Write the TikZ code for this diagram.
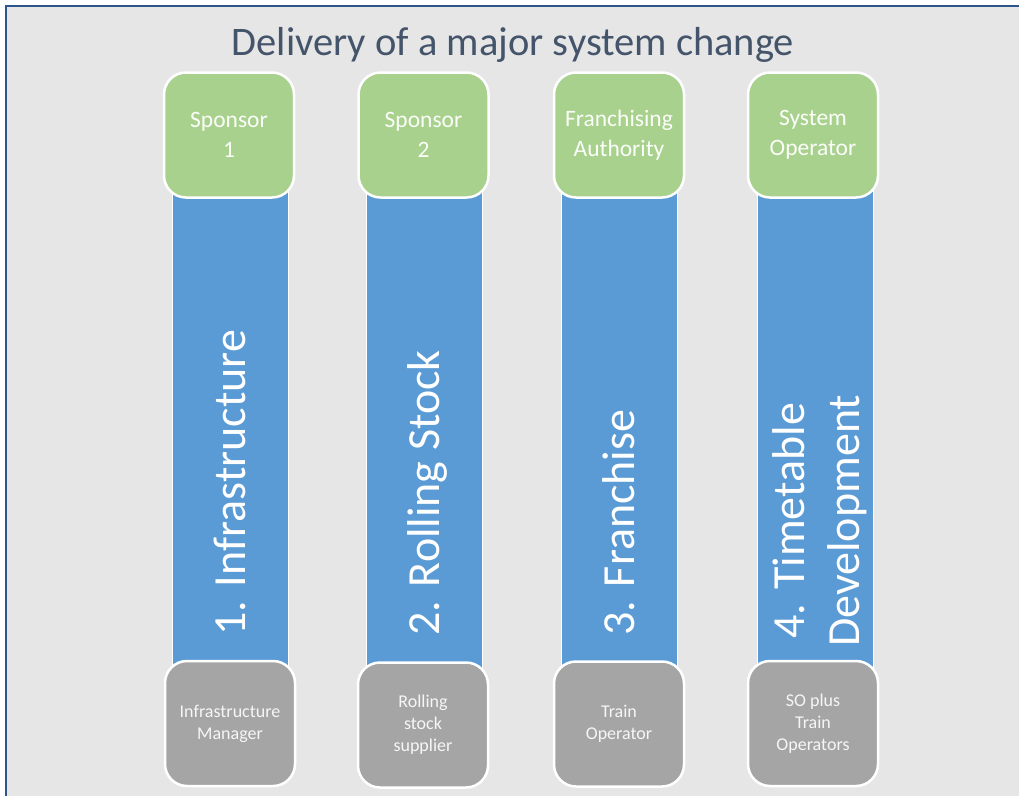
\documentclass[tikz,border=0pt]{standalone}
\usepackage{fontspec}
\setmainfont{Carlito}
\definecolor{panelbg}{HTML}{E7E6E6}
\definecolor{frameblue}{HTML}{2C568A}
\definecolor{titlegray}{HTML}{44546A}
\definecolor{ownergreen}{HTML}{A9D18E}
\definecolor{streamblue}{HTML}{5B9BD5}
\definecolor{suppliergray}{HTML}{A5A5A5}
\begin{document}
\begin{tikzpicture}[x=1pt, y=1pt,
  owner/.style={draw=white, line width=2.5pt, rounded corners=22pt, fill=ownergreen,
    minimum width=130pt, minimum height=125pt, inner sep=0pt, align=center,
    text=white!95!ownergreen, font=\fontsize{23.5}{30}\selectfont},
  supplier/.style={owner, fill=suppliergray, text=white!90!suppliergray,
    font=\fontsize{18}{22}\selectfont},
  stream/.style={draw=white, line width=1pt, fill=streamblue},
  streamtext/.style={rotate=90, inner sep=0pt, text=white, align=center,
    font=\fontsize{46}{55}\selectfont}]
\useasboundingbox (0,0) rectangle (1019,-796);
\fill [white] (0,0) rectangle (1019,-796);
\fill [panelbg] (6,-6) rectangle (1019,-796);
\draw [frameblue, line width=2.2pt] (6,-796) -- (6,-6) -- (1019,-6);
\node (title) [anchor=base, text=titlegray, font=\fontsize{40.5}{48}\selectfont] at (513,-55) {Delivery of a major system change};
% streams
\draw [stream] (172,-190) rectangle (288,-668);
\draw [stream] (366,-190) rectangle (482,-668);
\draw [stream] (561,-190) rectangle (677,-668);
\draw [stream] (757,-190) rectangle (873,-668);
\node (infra) [streamtext, anchor=base west] at (245,-636) {1. Infrastructure};
\node (rolling) [streamtext, anchor=base west] at (439,-636) {2. Rolling Stock};
\node (franchise) [streamtext, anchor=base west] at (634,-636) {3. Franchise};
\node (timetable) [streamtext, anchor=west] at (820,-647) {4. Timetable\\Development};
% owners
\node (sponsor1) [owner] at (229,-135) {Sponsor\\1};
\node (sponsor2) [owner] at (423.5,-135) {Sponsor\\2};
\node (authority) [owner] at (619,-135) {Franchising\\Authority};
\node (sysop) [owner] at (813,-135) {System\\Operator};
% suppliers
\node (manager) [supplier] at (230,-723.5) {Infrastructure\\Manager};
\node (stocksup) [supplier] at (423,-725) {Rolling\\stock\\supplier};
\node (trainop) [supplier] at (619,-724) {Train\\Operator};
\node (sotrain) [supplier] at (813,-723.5) {SO plus\\Train\\Operators};
\end{tikzpicture}
\end{document}
